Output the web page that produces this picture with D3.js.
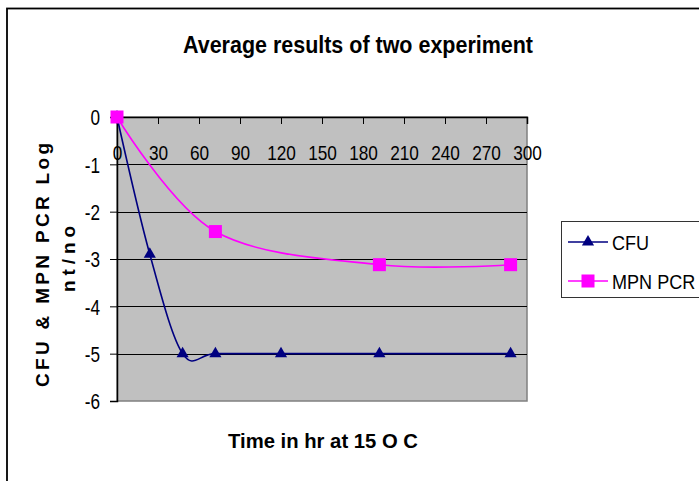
<!DOCTYPE html>
<html>
<head>
<meta charset="utf-8">
<script src="https://cdn.jsdelivr.net/npm/d3@7"></script>
<style>
  html, body { margin: 0; padding: 0; background: #fff; }
  svg { display: block; font-family: "Liberation Sans", Arial, sans-serif; }
</style>
</head>
<body>
<svg id="chart" width="699" height="481"></svg>
<script>
// ---- data ----
const titleText = "Average results of two experiment";
const xAxisTitle = "Time in hr at 15 O C";
const yAxisTitle1 = "CFU & MPN PCR Log";
const yAxisTitle2 = "nt/no";
const cfuTime = [0, 24, 48, 72, 120, 192, 288];
const cfuValues = [0, -2.9, -5, -5, -5, -5, -5];
const mpnTime = [0, 72, 192, 288];
const mpnValues = [0, -2.42, -3.12, -3.12];
const xTicks = [0, 30, 60, 90, 120, 150, 180, 210, 240, 270, 300];
const yTicks = [0, -1, -2, -3, -4, -5, -6];
const seriesNames = ["CFU", "MPN PCR"];

// ---- layout ----
const svg = d3.select("#chart");
const plot = { left: 117, right: 527, top: 117, bottom: 401 };
const x = d3.scaleLinear().domain([0, 300]).range([plot.left, plot.right]);
const y = d3.scaleLinear().domain([0, -6]).range([plot.top, plot.bottom]);

// outer chart border
svg.append("rect").attr("x", 7).attr("y", 8.5).attr("width", 900).attr("height", 900)
  .attr("fill", "none").attr("stroke", "#000").attr("stroke-width", 1.8);

// plot background
svg.append("rect").attr("x", plot.left).attr("y", plot.top)
  .attr("width", plot.right - plot.left).attr("height", plot.bottom - plot.top)
  .attr("fill", "#c0c0c0").attr("stroke", "#808080").attr("stroke-width", 1.5);

// gridlines
svg.append("g").selectAll("line").data(yTicks.filter(d => d < 0 && d > -6)).join("line")
  .attr("x1", plot.left).attr("x2", plot.right)
  .attr("y1", d => Math.round(y(d)) + 0.5).attr("y2", d => Math.round(y(d)) + 0.5)
  .attr("stroke", "#000").attr("stroke-width", 1);

// y axis
const yAxis = svg.append("g").attr("transform", `translate(${plot.left},0)`)
  .call(d3.axisLeft(y).tickValues(yTicks).tickSize(7).tickFormat(d3.format("d")));
yAxis.select(".domain").attr("stroke", "#000").attr("stroke-width", 1.5);
yAxis.selectAll(".tick line").attr("stroke", "#000");
const ySX = 0.78;
yAxis.selectAll(".tick text")
  .attr("font-size", 22).attr("fill", "#000")
  .attr("x", -17 / ySX).attr("dy", "0.36em")
  .attr("transform", `scale(${ySX},1)`)
  .text(d => d === 0 ? "0" : "-" + Math.abs(d));

// x axis (on top, labels below line)
const xAxis = svg.append("g").attr("transform", `translate(0,${plot.top})`)
  .call(d3.axisBottom(x).tickValues(xTicks).tickSize(7).tickPadding(21));
xAxis.select(".domain").attr("stroke", "#000").attr("stroke-width", 1.5);
xAxis.selectAll(".tick line").attr("stroke", "#000");
const xSX = 0.82;
xAxis.selectAll(".tick text")
  .attr("font-size", 21).attr("fill", "#000")
  .attr("transform", `scale(${xSX},1)`);

// lines
const line = d3.line().x(d => x(d[0])).y(d => y(d[1])).curve(d3.curveCardinal.tension(0));
const cfuData = cfuTime.map((t, i) => [t, cfuValues[i]]);
const mpnData = mpnTime.map((t, i) => [t, mpnValues[i]]);
svg.append("path").datum(mpnData).attr("d", line)
  .attr("fill", "none").attr("stroke", "#ff00ff").attr("stroke-width", 1.6);
svg.append("path").datum(cfuData).attr("d", line)
  .attr("fill", "none").attr("stroke", "#000080").attr("stroke-width", 1.6);

// markers
const tri = d3.symbol(d3.symbolTriangle, 64);
svg.append("g").selectAll("path").data(cfuData).join("path")
  .attr("d", tri).attr("transform", d => `translate(${x(d[0])},${y(d[1])})`)
  .attr("fill", "#000080");
const sq = 13;
svg.append("g").selectAll("rect").data(mpnData).join("rect")
  .attr("x", d => x(d[0]) - sq / 2).attr("y", d => y(d[1]) - sq / 2)
  .attr("width", sq).attr("height", sq).attr("fill", "#ff00ff");

// title
svg.append("text").attr("x", 358).attr("y", 53).attr("text-anchor", "middle")
  .attr("font-size", 23).attr("font-weight", "bold")
  .attr("textLength", 350).attr("lengthAdjust", "spacingAndGlyphs")
  .text(titleText);

// x axis title
svg.append("text").attr("x", 323).attr("y", 448).attr("text-anchor", "middle")
  .attr("font-size", 21).attr("font-weight", "bold")
  .attr("textLength", 190).attr("lengthAdjust", "spacingAndGlyphs").text(xAxisTitle);

// y axis title
svg.append("text").attr("transform", "translate(49,265) rotate(-90)")
  .attr("text-anchor", "middle").attr("font-size", 19).attr("font-weight", "bold")
  .attr("textLength", 244).attr("lengthAdjust", "spacing").text(yAxisTitle1);
svg.append("text").attr("transform", "translate(75,259) rotate(-90)")
  .attr("text-anchor", "middle").attr("font-size", 19).attr("font-weight", "bold")
  .attr("textLength", 66).attr("lengthAdjust", "spacing").text(yAxisTitle2);

// legend
const lg = svg.append("g");
lg.append("rect").attr("x", 561.5).attr("y", 221.5).attr("width", 200).attr("height", 76)
  .attr("fill", "#fff").attr("stroke", "#333").attr("stroke-width", 1);
const legendY = [242, 281];
const colors = ["#000080", "#ff00ff"];
seriesNames.forEach((name, i) => {
  lg.append("line").attr("x1", 568).attr("x2", 608).attr("y1", legendY[i]).attr("y2", legendY[i])
    .attr("stroke", colors[i]).attr("stroke-width", 1.6);
  if (i === 0) {
    lg.append("path").attr("d", tri).attr("transform", `translate(588,${legendY[i]})`).attr("fill", colors[i]);
  } else {
    lg.append("rect").attr("x", 588 - sq / 2).attr("y", legendY[i] - sq / 2)
      .attr("width", sq).attr("height", sq).attr("fill", colors[i]);
  }
  lg.append("text").attr("transform", `translate(612,${legendY[i] + 6}) scale(0.86,1)`)
    .attr("font-size", 21).attr("fill", "#000").attr("dy", "0.1em").text(name);
});
</script>
</body>
</html>
